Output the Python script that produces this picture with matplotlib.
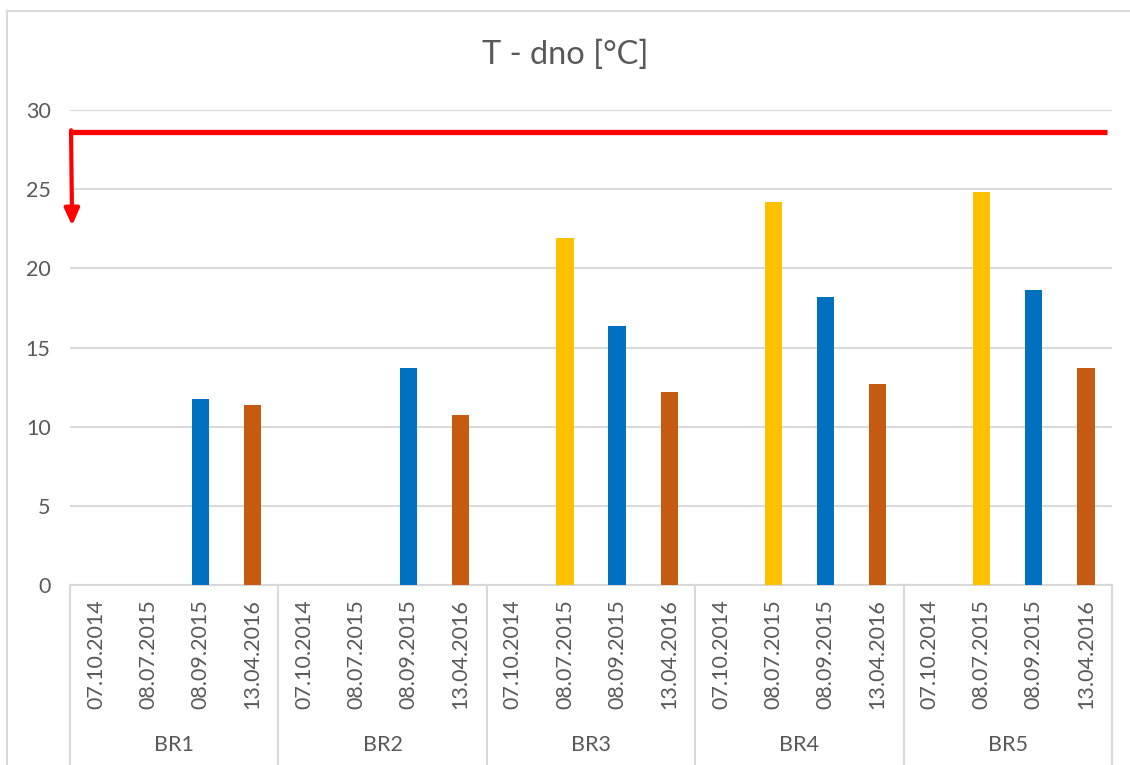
import numpy as np
import matplotlib.pyplot as plt
from matplotlib.transforms import blended_transform_factory

plt.rcParams['font.family'] = ['Lato', 'DejaVu Sans']

sites = ['BR1', 'BR2', 'BR3', 'BR4', 'BR5']
dates = ['07.10.2014', '08.07.2015', '08.09.2015', '13.04.2016']
# bottom temperature per site, one value per date (nan = no measurement)
t_0710 = [np.nan, np.nan, np.nan, np.nan, np.nan]
t_0807 = [np.nan, np.nan, 21.9, 24.2, 24.85]
t_0809 = [11.75, 13.7, 16.35, 18.2, 18.6]
t_1304 = [11.4, 10.75, 12.2, 12.7, 13.7]
limit = 28.6        # red limit line
arrow_end = 22.7

colors = ['#5B9BD5', '#FFC000', '#0070C0', '#C55A11']
gray = '#595959'
grid = '#D9D9D9'

fig = plt.figure(figsize=(11.3, 7.65), dpi=100)
ax = fig.add_axes([70/1130, 1-585/765, (1112-70)/1130, (585-110)/765])

series = [t_0710, t_0807, t_0809, t_1304]
n = len(dates)
for j, vals in enumerate(series):
    xs = np.arange(len(sites))*n + j
    ax.bar(xs, vals, width=0.33, color=colors[j], zorder=3)

ax.set_xlim(-0.5, len(sites)*n - 0.5)
ax.set_ylim(0, 30)
ax.set_yticks(range(0, 31, 5))
ax.yaxis.grid(True, color=grid, lw=1.5, zorder=0)
ax.tick_params(axis='y', length=0, pad=14, labelsize=15.5, labelcolor=gray)
for s in ['top', 'right', 'left']:
    ax.spines[s].set_visible(False)
ax.spines['bottom'].set_color(grid)
ax.spines['bottom'].set_linewidth(1.5)

ax.set_xticks(np.arange(len(sites)*n))
ax.set_xticklabels(dates*len(sites), rotation=90, fontsize=15.5, color=gray)
ax.tick_params(axis='x', length=0, pad=10)

# group labels and separators under the axis
tr = blended_transform_factory(ax.transData, fig.transFigure)
for i, s in enumerate(sites):
    ax.text(i*n + (n-1)/2, 1-745/765, s, transform=tr, ha='center', va='center',
            fontsize=15.5, color=gray)
for i in range(len(sites)+1):
    ax.plot([i*n - 0.5]*2, [1-585/765, 0], transform=tr, color=grid, lw=1.5,
            clip_on=False)

ax.text(0.5, 1-55/765, 'T - dno [°C]', transform=fig.transFigure, ha='center',
        va='center', fontsize=23.5, color=gray)

# limit line with arrow
ax.axhline(limit, xmin=-0.002, xmax=0.9955, color='#FF0000', lw=3.8,
           solid_capstyle='butt', zorder=4)
ax.annotate('', xy=(-0.46, arrow_end), xytext=(-0.48, limit + 0.12),
            arrowprops=dict(arrowstyle='-|>,head_width=0.45,head_length=1.0',
                            color='#FF0000', lw=3, shrinkA=0, shrinkB=0),
            annotation_clip=False, zorder=4)

# chart frame
fig.add_artist(plt.Line2D([7/1130, 7/1130], [0, 1-11/765], color=grid, lw=1.5))
fig.add_artist(plt.Line2D([7/1130, 1], [1-11/765, 1-11/765], color=grid, lw=1.5))

fig.savefig('out.png', dpi=100)
